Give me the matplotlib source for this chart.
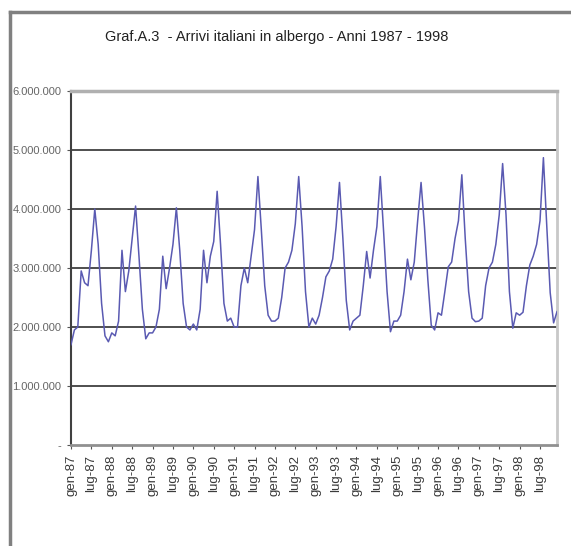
import numpy as np
import matplotlib
matplotlib.use("Agg")
import matplotlib.pyplot as plt
from matplotlib.lines import Line2D

plt.rcParams['font.family'] = ['Liberation Sans Narrow', 'Liberation Sans', 'DejaVu Sans']

# arrivi mensili (migliaia), gen..dic
y1987 = [1700, 1950, 2000, 2950, 2750, 2700, 3300, 4000, 3400, 2400, 1850, 1750]
y1988 = [1900, 1850, 2100, 3300, 2600, 2950, 3500, 4050, 3200, 2300, 1800, 1900]
y1989 = [1900, 2000, 2300, 3200, 2650, 3000, 3400, 4020, 3300, 2400, 2000, 1950]
y1990 = [2050, 1950, 2300, 3300, 2750, 3200, 3450, 4300, 3400, 2400, 2100, 2150]
y1991 = [2000, 2000, 2700, 3000, 2750, 3200, 3650, 4550, 3650, 2700, 2200, 2100]
y1992 = [2100, 2150, 2500, 3000, 3100, 3300, 3750, 4550, 3700, 2600, 2000, 2150]
y1993 = [2050, 2200, 2500, 2850, 2950, 3150, 3700, 4450, 3500, 2450, 1950, 2100]
y1994 = [2150, 2200, 2700, 3280, 2830, 3300, 3700, 4550, 3600, 2600, 1920, 2100]
y1995 = [2100, 2200, 2600, 3150, 2800, 3100, 3800, 4450, 3700, 2800, 2030, 1950]
y1996 = [2240, 2200, 2600, 3020, 3100, 3500, 3800, 4580, 3500, 2600, 2150, 2090]
y1997 = [2100, 2150, 2700, 3000, 3100, 3400, 3900, 4770, 3900, 2600, 1980, 2240]
y1998 = [2200, 2250, 2700, 3050, 3200, 3400, 3800, 4870, 3700, 2580, 2070, 2260]

anni = [87, 88, 89, 90, 91, 92, 93, 94, 95, 96, 97, 98]
mesi_etichetta = ["gen", "lug"]
y_ticks = [0, 1000000, 2000000, 3000000, 4000000, 5000000, 6000000]
y_labels = ["-", "1.000.000", "2.000.000", "3.000.000", "4.000.000", "5.000.000", "6.000.000"]

valori = np.array(y1987 + y1988 + y1989 + y1990 + y1991 + y1992 +
                  y1993 + y1994 + y1995 + y1996 + y1997 + y1998) * 1000
x = np.arange(len(valori))
x_labels = [m + "-" + str(a) for a in anni for m in mesi_etichetta]
x_ticks = np.arange(0, len(valori), 6)

fig = plt.figure(figsize=(5.71, 5.46), dpi=100)
ax = fig.add_axes([71/571, 101/546, 486/571, 354/546])

for v in y_ticks[1:-1]:
    ax.axhline(v, color="#404040", lw=1.3, zorder=1)
ax.plot(x, valori, color="#5a5ab2", lw=1.1, zorder=3)

ax.set_xlim(0, len(valori) - 1)
ax.set_ylim(0, 6000000)
ax.set_yticks(y_ticks)
ax.set_yticklabels(y_labels, fontsize=8, color="#666666")
ax.set_xticks(x_ticks)
ax.set_xticklabels(x_labels, rotation=90, fontsize=9.5, color="#3a3a3a")
ax.tick_params(axis="both", length=3, width=0.8, color="#555555", pad=2)
ax.tick_params(axis="x", pad=4)
ax.tick_params(axis="y", pad=4)

ax.spines["left"].set_color("#404040")
ax.spines["left"].set_linewidth(1.5)
ax.spines["bottom"].set_color("#909090")
ax.spines["bottom"].set_linewidth(2)
ax.spines["top"].set_color("#b0b0b0")
ax.spines["top"].set_linewidth(2.5)
ax.spines["right"].set_color("#c8c8c8")
ax.spines["right"].set_linewidth(2)

fig.text(277/571, 1 - 37/546, "Graf.A.3  - Arrivi italiani in albergo - Anni 1987 - 1998",
         ha="center", va="center", fontsize=10.5, color="#222222")

# cornice esterna
fig.add_artist(Line2D([10/571, 10/571], [0, 1 - 12/546], transform=fig.transFigure,
                      color="#808080", lw=2.5))
fig.add_artist(Line2D([10/571, 1], [1 - 12/546, 1 - 12/546], transform=fig.transFigure,
                      color="#808080", lw=2.5))

fig.savefig("out.png", dpi=100)
